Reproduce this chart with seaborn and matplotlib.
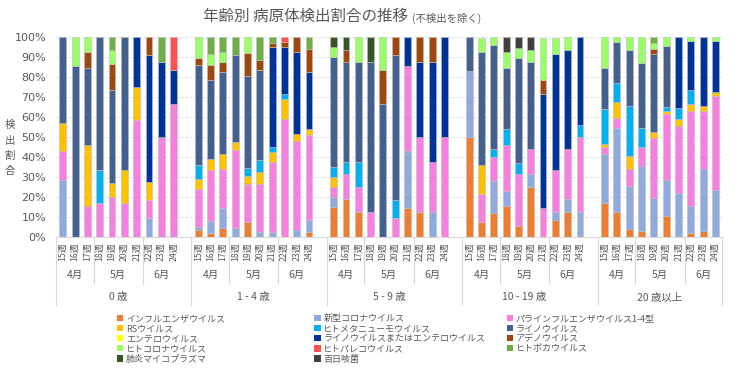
import pandas as pd
import matplotlib
matplotlib.use('Agg')
import matplotlib.pyplot as plt
import matplotlib.transforms as mtransforms
from matplotlib.patches import Patch
import seaborn as sns

sns.set_style("white")
plt.rcParams['font.family'] = ['Noto Sans CJK JP', 'DejaVu Sans']

# 年齢群・週・月
age_groups = ['0 歳', '1 - 4 歳', '5 - 9 歳', '10 - 19 歳', '20 歳以上']
weeks = [15, 16, 17, 18, 19, 20, 21, 22, 23, 24]
months = [('4月', 15, 17), ('5月', 18, 21), ('6月', 22, 24)]

pathogens = ['インフルエンザウイルス', '新型コロナウイルス', 'パラインフルエンザウイルス1-4型',
             'RSウイルス', 'ヒトメタニューモウイルス', 'ライノウイルス', 'エンテロウイルス',
             'ライノウイルスまたはエンテロウイルス', 'アデノウイルス', 'ヒトコロナウイルス',
             'ヒトパレコウイルス', 'ヒトボカウイルス', '肺炎マイコプラズマ', '百日咳菌']
colors = ['#ED7D31', '#8FAADC', '#F67FE0', '#FFC000', '#00B0F0', '#44608F', '#FFFF00',
          '#003399', '#9E480E', '#99FF66', '#FF5050', '#70AD47', '#375623', '#404040']

# 検出割合(%) 各系列: 0歳 15-24週, 1-4歳, 5-9歳, 10-19歳, 20歳以上
flu = [0, 0, 0, 0, 0, 0, 0, 0, 0, 0,
       3.4, 1.7, 4.4, 0, 7.2, 0, 0, 0, 0, 2.5,
       15, 18.75, 12.5, 0, 0, 0, 14.3, 12.5, 0, 0,
       50, 7.1, 12, 15.4, 5.3, 25, 0, 8.3, 12.5, 0,
       16.8, 12.4, 3.9, 2.9, 0, 10.1, 0, 1.7, 2.7, 0]
cov = [28.6, 0, 0, 0, 0, 0, 0, 9.1, 0, 0,
       1.3, 6.0, 10.1, 4.2, 0, 2.2, 2.5, 0, 3.4, 5.9,
       5, 0, 0, 0, 0, 0, 28.6, 0, 12.5, 0,
       33.3, 0, 16, 7.7, 0, 6.25, 0, 4.2, 6.25, 12.5,
       24.5, 42.3, 21.6, 32.5, 19.5, 18.5, 22.0, 13.9, 31.4, 23.5]
para = [14.3, 0, 15.4, 16.7, 20.0, 16.7, 58.3, 9.1, 50, 66.7,
        19.3, 25.5, 19.6, 39.1, 19.3, 24.3, 34.9, 59.2, 44.6, 42.8,
        5, 12.5, 12.5, 12.5, 0, 9.1, 42.9, 37.5, 25, 50,
        0, 14.3, 12, 23.1, 26.3, 12.5, 14.3, 20.8, 25, 37.5,
        3.7, 5.0, 8.4, 9.6, 30.2, 32.7, 33.6, 47.5, 29.0, 47.1]
rsv = [14.3, 0, 30.8, 0, 6.7, 16.7, 16.7, 9.1, 0, 0,
       5.0, 5.7, 7.2, 4.2, 3.7, 5.9, 5.0, 9.6, 3.7, 2.9,
       5, 0, 0, 0, 0, 0, 0, 0, 0, 0,
       0, 14.3, 0, 0, 0, 0, 0, 0, 0, 0,
       1.7, 7.6, 6.4, 0, 2.9, 1.8, 3.4, 3.4, 2.5, 2.0]
hmpv = [0, 0, 0, 16.7, 0, 0, 0, 0, 0, 0,
        6.9, 0, 0, 0, 4.2, 5.9, 2.5, 2.7, 0, 0,
        5, 6.25, 12.5, 0, 0, 9.1, 0, 0, 0, 0,
        0, 0, 4, 7.7, 5.3, 0, 0, 0, 0, 6.25,
        17.1, 9.9, 25.3, 9.6, 0, 2.0, 5.7, 7.0, 0, 0]
rhino = [42.9, 85.7, 38.5, 66.7, 46.7, 66.7, 0, 0, 0, 0,
         50.2, 39.6, 41.4, 43.6, 46.3, 45.3, 0, 0, 0, 0,
         55, 50, 50, 75, 66.7, 72.7, 0, 0, 0, 0,
         16.7, 57.1, 52, 30.8, 52.6, 43.75, 0, 0, 0, 0,
         21.0, 20.3, 28.0, 32.7, 39.1, 30.7, 0, 0, 0, 0]
entero = [0, 0, 0, 0, 0, 0, 0, 0, 0, 0,
          0, 0, 0, 0, 0, 0, 0, 0, 0, 0,
          0, 0, 0, 0, 0, 0, 0, 0, 0, 0,
          0, 0, 0, 0, 0, 0, 0, 0, 0, 0,
          0, 0, 0, 0, 0, 0, 0, 0, 0, 0]
rhent = [0, 0, 0, 0, 0, 0, 25.0, 63.6, 37.5, 16.7,
         0, 0, 0, 0, 0, 0, 50.0, 23.8, 40.7, 28.6,
         0, 0, 0, 0, 0, 0, 14.3, 37.5, 50, 50,
         0, 0, 0, 0, 0, 0, 57.1, 58.3, 50, 43.75,
         0, 0, 0, 0, 0, 0, 35.3, 24.8, 34.4, 25.5]
adeno = [0, 0, 7.7, 0, 13.3, 0, 0, 9.1, 0, 0,
         3.4, 7.6, 5.0, 0, 11.6, 5.0, 2.4, 2.5, 7.6, 11.4,
         0, 6.25, 0, 0, 16.7, 9.1, 0, 12.5, 12.5, 0,
         0, 0, 0, 0, 0, 0, 7.1, 0, 0, 0,
         0, 0, 0, 0, 2.5, 0, 0, 0, 0, 0]
hcov = [0, 14.3, 7.7, 0, 6.7, 0, 0, 0, 0, 0,
        10.5, 5.5, 4.7, 0, 7.7, 0, 0, 0, 0, 0,
        5, 0, 12.5, 0, 16.7, 0, 0, 0, 0, 0,
        0, 7.1, 4, 7.7, 5.3, 6.25, 21.4, 8.3, 6.25, 0,
        15.2, 2.5, 6.4, 12.7, 2.9, 4.2, 0, 1.7, 0, 1.9]
hpev = [0, 0, 0, 0, 0, 0, 0, 0, 0, 16.7,
        0, 0, 0, 0, 0, 0, 0, 2.2, 0, 0,
        0, 0, 0, 0, 0, 0, 0, 0, 0, 0,
        0, 0, 0, 0, 0, 0, 0, 0, 0, 0,
        0, 0, 0, 0, 0, 0, 0, 0, 0, 0]
boca = [0, 0, 0, 0, 6.7, 0, 0, 0, 12.5, 0,
        0, 8.4, 7.6, 8.9, 0, 11.4, 2.7, 0, 0, 5.9,
        0, 0, 0, 0, 0, 0, 0, 0, 0, 0,
        0, 0, 0, 0, 0, 0, 0, 0, 0, 0,
        0, 0, 0, 0, 2.9, 0, 0, 0, 0, 0]
myco = [0, 0, 0, 0, 0, 0, 0, 0, 0, 0,
        0, 0, 0, 0, 0, 0, 0, 0, 0, 0,
        5, 6.25, 0, 12.5, 0, 0, 0, 0, 0, 0,
        0, 0, 0, 0, 0, 0, 0, 0, 0, 0,
        0, 0, 0, 0, 0, 0, 0, 0, 0, 0]
pert = [0, 0, 0, 0, 0, 0, 0, 0, 0, 0,
        0, 0, 0, 0, 0, 0, 0, 0, 0, 0,
        0, 0, 0, 0, 0, 0, 0, 0, 0, 0,
        0, 0, 0, 7.7, 5.3, 6.25, 0, 0, 0, 0,
        0, 0, 0, 0, 0, 0, 0, 0, 0, 0]
series = [flu, cov, para, rsv, hmpv, rhino, entero, rhent, adeno, hcov, hpev, boca, myco, pert]

TEXT = '#595959'
GRID = '#D9D9D9'


def build_frame():
    """年齢群ごとに1枠空けて並べた縦長データ"""
    rows = []
    for p, vals in zip(pathogens, series):
        for g in range(len(age_groups)):
            for i, w in enumerate(weeks):
                rows.append({'slot': g * 11 + i, 'pathogen': p,
                             'pct': vals[g * len(weeks) + i]})
    return pd.DataFrame(rows)


def main():
    df = build_frame()
    fig = plt.figure(figsize=(7.41, 3.75), dpi=100)
    ax = fig.add_axes([0.0752, 0.369, 0.8998, 0.5315])

    # seaborn stacks the first hue level on top -> reverse so flu is at the bottom
    sns.histplot(data=df, x='slot', weights='pct', hue='pathogen',
                 hue_order=pathogens[::-1], palette=dict(zip(pathogens, colors)),
                 multiple='stack', discrete=True, shrink=0.56, alpha=1,
                 edgecolor='#BFBFBF', linewidth=0.4, legend=False, ax=ax)
    for patch in list(ax.patches):
        if patch.get_height() <= 0:
            patch.remove()

    n_slots = len(age_groups) * 11 - 1
    ax.set_xlim(-0.57, n_slots - 1 + 0.57)
    ax.set_ylim(0, 100)
    ax.set_yticks(range(0, 101, 10))
    ax.set_yticklabels([f'{v}%' for v in range(0, 101, 10)], fontsize=8, color=TEXT,
                       family=['DejaVu Sans'])
    xt = [g * 11 + i for g in range(len(age_groups)) for i in range(len(weeks))]
    ax.set_xticks(xt)
    ax.set_xticklabels([f'{w}週' for _ in age_groups for w in weeks],
                       rotation=90, fontsize=6.3, color=TEXT)
    ax.tick_params(length=0, pad=4)
    ax.tick_params(axis='y', pad=7)
    ax.set_xlabel('')
    ax.set_ylabel('')
    ax.yaxis.grid(True, color=GRID, linestyle=(0, (3, 2)), linewidth=0.6)
    ax.set_axisbelow(True)
    for s in ['top', 'right', 'left']:
        ax.spines[s].set_visible(False)
    ax.spines['bottom'].set_color(GRID)
    ax.spines['bottom'].set_linewidth(0.8)

    # 多段の横軸ラベル (月・年齢群)
    trans = mtransforms.blended_transform_factory(ax.transData, ax.transAxes)
    for g, age in enumerate(age_groups):
        base = g * 11
        left = base - 0.57
        ax.plot([left, left], [0, -0.345], color=GRID, lw=0.8, transform=trans, clip_on=False)
        ax.text(base + 4.5, -0.305, age, transform=trans, ha='center', va='center',
                fontsize=7.5, color=TEXT)
        for name, w0, w1 in months:
            c = base + (w0 + w1) / 2 - weeks[0]
            ax.text(c, -0.193, name, transform=trans, ha='center', va='center',
                    fontsize=7.5, color=TEXT)
        for w in [18, 22]:
            xs = base + w - weeks[0] - 0.5
            ax.plot([xs, xs], [0, -0.24], color=GRID, lw=0.8, transform=trans, clip_on=False)
    ax.plot([n_slots - 1 + 0.57] * 2, [0, -0.345], color=GRID, lw=0.8, transform=trans,
            clip_on=False)

    # タイトル・縦軸ラベル
    title = fig.text(0.274, 0.955, '年齢別 病原体検出割合の推移', fontsize=11.2, color=TEXT,
                     ha='left', va='center')
    fig.canvas.draw()
    bb = title.get_window_extent().transformed(fig.transFigure.inverted())
    fig.text(bb.x1 + 0.006, 0.952, '(不検出を除く)', fontsize=7.5, color=TEXT,
             ha='left', va='center')
    fig.text(0.013, 0.605, '検\n出\n割\n合', fontsize=7.5, color=TEXT, ha='center',
             va='center', linespacing=1.65)

    # 凡例 (3列, 行方向の並び)
    handles = [Patch(facecolor=c, edgecolor='none') for c in colors]
    cols = [[0, 3, 6, 9, 12], [1, 4, 7, 10, 13], [2, 5, 8, 11]]
    xs = [0.152, 0.418, 0.678]
    for xpos, idx in zip(xs, cols):
        fig.legend([handles[i] for i in idx], [pathogens[i] for i in idx],
                   loc='upper left', bbox_to_anchor=(xpos, 0.175), frameon=False,
                   fontsize=6.5, handlelength=0.7, handleheight=0.7, handletextpad=0.3,
                   labelspacing=0.13, borderpad=0, labelcolor=TEXT)

    plt.savefig('out.png', dpi=100)
    plt.close()


if __name__ == '__main__':
    main()
